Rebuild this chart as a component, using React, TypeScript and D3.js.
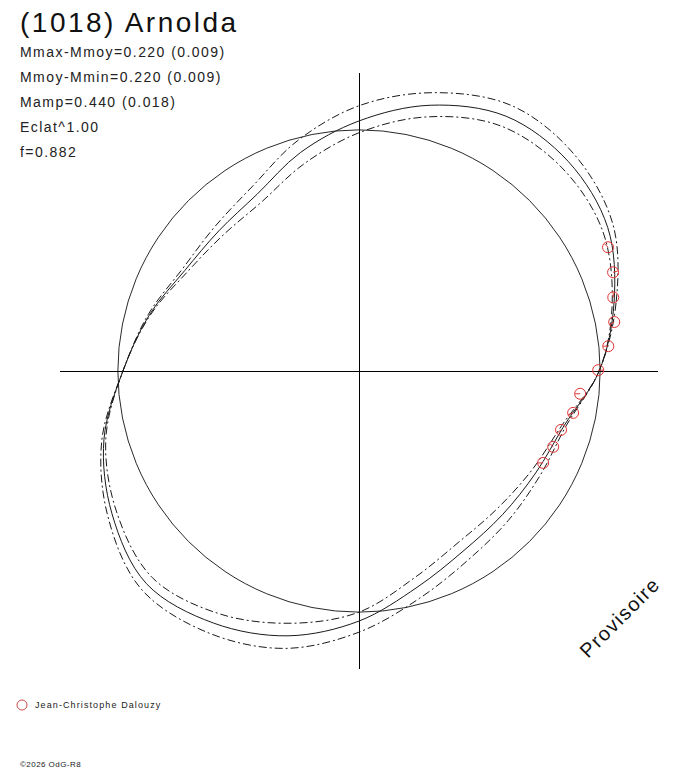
import React from 'react'
import * as d3 from 'd3'

// angles in degrees, counter-clockwise from the +x axis
const angles = [0, 15, 30, 45, 60, 75, 90, 105, 120, 135, 150, 165, 180, 195, 210, 225, 240, 255, 270, 285, 300, 315, 330, 345]

// radius relative to the mean circle (1 = mean brightness)
const fitRadius = [0.996, 1.095, 1.191, 1.228, 1.22, 1.141, 1.037, 0.938, 0.846, 0.822, 0.834, 0.9, 0.979, 1.095, 1.183, 1.247, 1.207, 1.137, 1.037, 0.929, 0.863, 0.842, 0.846, 0.88]
const upperRadius = [0.996, 1.104, 1.216, 1.266, 1.27, 1.195, 1.1, 0.988, 0.884, 0.846, 0.846, 0.905, 0.979, 1.104, 1.203, 1.278, 1.253, 1.191, 1.083, 0.975, 0.905, 0.876, 0.867, 0.888]
const lowerRadius = [0.996, 1.087, 1.166, 1.191, 1.174, 1.091, 0.988, 0.888, 0.809, 0.797, 0.822, 0.896, 0.979, 1.087, 1.162, 1.212, 1.162, 1.083, 1.0, 0.888, 0.822, 0.809, 0.826, 0.871]

// observations (Jean-Christophe Dalouzy)
const obsAngle = [26.5, 21.3, 16.2, 10.9, 5.7, 0.2, -5.9, -11.1, -16.3, -21.4, -26.6]
const obsRadius = [1.154, 1.131, 1.098, 1.078, 1.039, 0.992, 0.922, 0.905, 0.873, 0.865, 0.854]
const obsTick = [135, 15, 90, -150, 180, 0, 180, 200, 220, 135, 180]

const title = '(1018) Arnolda'
const infoLines = ['Mmax-Mmoy=0.220 (0.009)', 'Mmoy-Mmin=0.220 (0.009)', 'Mamp=0.440 (0.018)', 'Eclat^1.00', 'f=0.882']
const observer = 'Jean-Christophe Dalouzy'
const copyright = '\u00a92026 OdG-R8'
const stamp = 'Provisoire'

const W = 688
const H = 768
const font = '"Liberation Sans", Arial, sans-serif'
const red = '#e03333'

const App: React.FC = () => {
    const x = d3.scaleLinear().domain([-1.24, 1.24]).range([60, 658])
    const y = d3.scaleLinear().domain([-1.24, 1.24]).range([669, 73])
    const r = d3.scaleLinear().domain([0, 1]).range([0, x(1) - x(0)])
    const cx = x(0)
    const cy = y(0)

    const toRad = (deg: number) => Math.PI / 2 - (deg * Math.PI) / 180

    const radial = d3
        .lineRadial<[number, number]>()
        .angle((d) => toRad(d[0]))
        .radius((d) => r(d[1]))
        .curve(d3.curveCatmullRomClosed)

    const path = (vals: number[]) =>
        radial(angles.map((a, i) => [a, vals[i]] as [number, number])) || ''

    const pts = obsAngle.map((a, i) => {
        const t = (a * Math.PI) / 180
        return {
            px: x(obsRadius[i] * Math.cos(t)),
            py: y(obsRadius[i] * Math.sin(t)),
            tick: (obsTick[i] * Math.PI) / 180,
        }
    })

    return (
        <svg
            width={W}
            height={H}
            style={{ position: 'absolute', left: 0, top: 0, background: '#fff' }}
        >
            {/* axes */}
            <g stroke="#000" strokeWidth={1} shapeRendering="crispEdges">
                <line x1={x(-1.24)} x2={x(1.24)} y1={cy} y2={cy} />
                <line x1={cx} x2={cx} y1={y(1.24)} y2={y(-1.24)} />
            </g>

            {/* mean circle */}
            <circle cx={cx} cy={cy} r={r(1)} fill="none" stroke="#111" strokeWidth={0.9} />

            {/* fitted curve and error envelopes */}
            <g transform={`translate(${cx},${cy})`} fill="none" stroke="#1a1a1a">
                <path d={path(upperRadius)} strokeWidth={1} strokeDasharray="8,3,2,3" />
                <path d={path(lowerRadius)} strokeWidth={1} strokeDasharray="8,3,2,3" />
                <path d={path(fitRadius)} strokeWidth={1} />
            </g>

            {/* observations */}
            <g fill="none" stroke={red} strokeWidth={1}>
                {pts.map((p, i) => (
                    <g key={i}>
                        <circle cx={p.px} cy={p.py} r={5.5} />
                        <line
                            x1={p.px}
                            y1={p.py}
                            x2={p.px + 5 * Math.cos(p.tick)}
                            y2={p.py - 5 * Math.sin(p.tick)}
                        />
                    </g>
                ))}
            </g>

            {/* header text */}
            <text x={20} y={32} fontFamily={font} fontSize={28} letterSpacing={2.5} fill="#111">
                {title}
            </text>
            {infoLines.map((t, i) => (
                <text
                    key={t}
                    x={20}
                    y={57 + i * 25}
                    fontFamily={font}
                    fontSize={14}
                    letterSpacing={1.45}
                    fill="#222"
                >
                    {t}
                </text>
            ))}

            {/* stamp */}
            <text
                x={588}
                y={659}
                transform="rotate(-45, 588, 659)"
                fontFamily={font}
                fontSize={20}
                letterSpacing={1.5}
                fill="#111"
            >
                {stamp}
            </text>

            {/* legend */}
            <circle cx={22} cy={705} r={5} fill="none" stroke="#d04a4a" strokeWidth={1} />
            <text x={35} y={708} fontFamily={font} fontSize={9} letterSpacing={1.1} fill="#222">
                {observer}
            </text>
            <text x={20} y={767} fontFamily={font} fontSize={8} letterSpacing={0.45} fill="#222">
                {copyright}
            </text>
        </svg>
    )
}

export default App
